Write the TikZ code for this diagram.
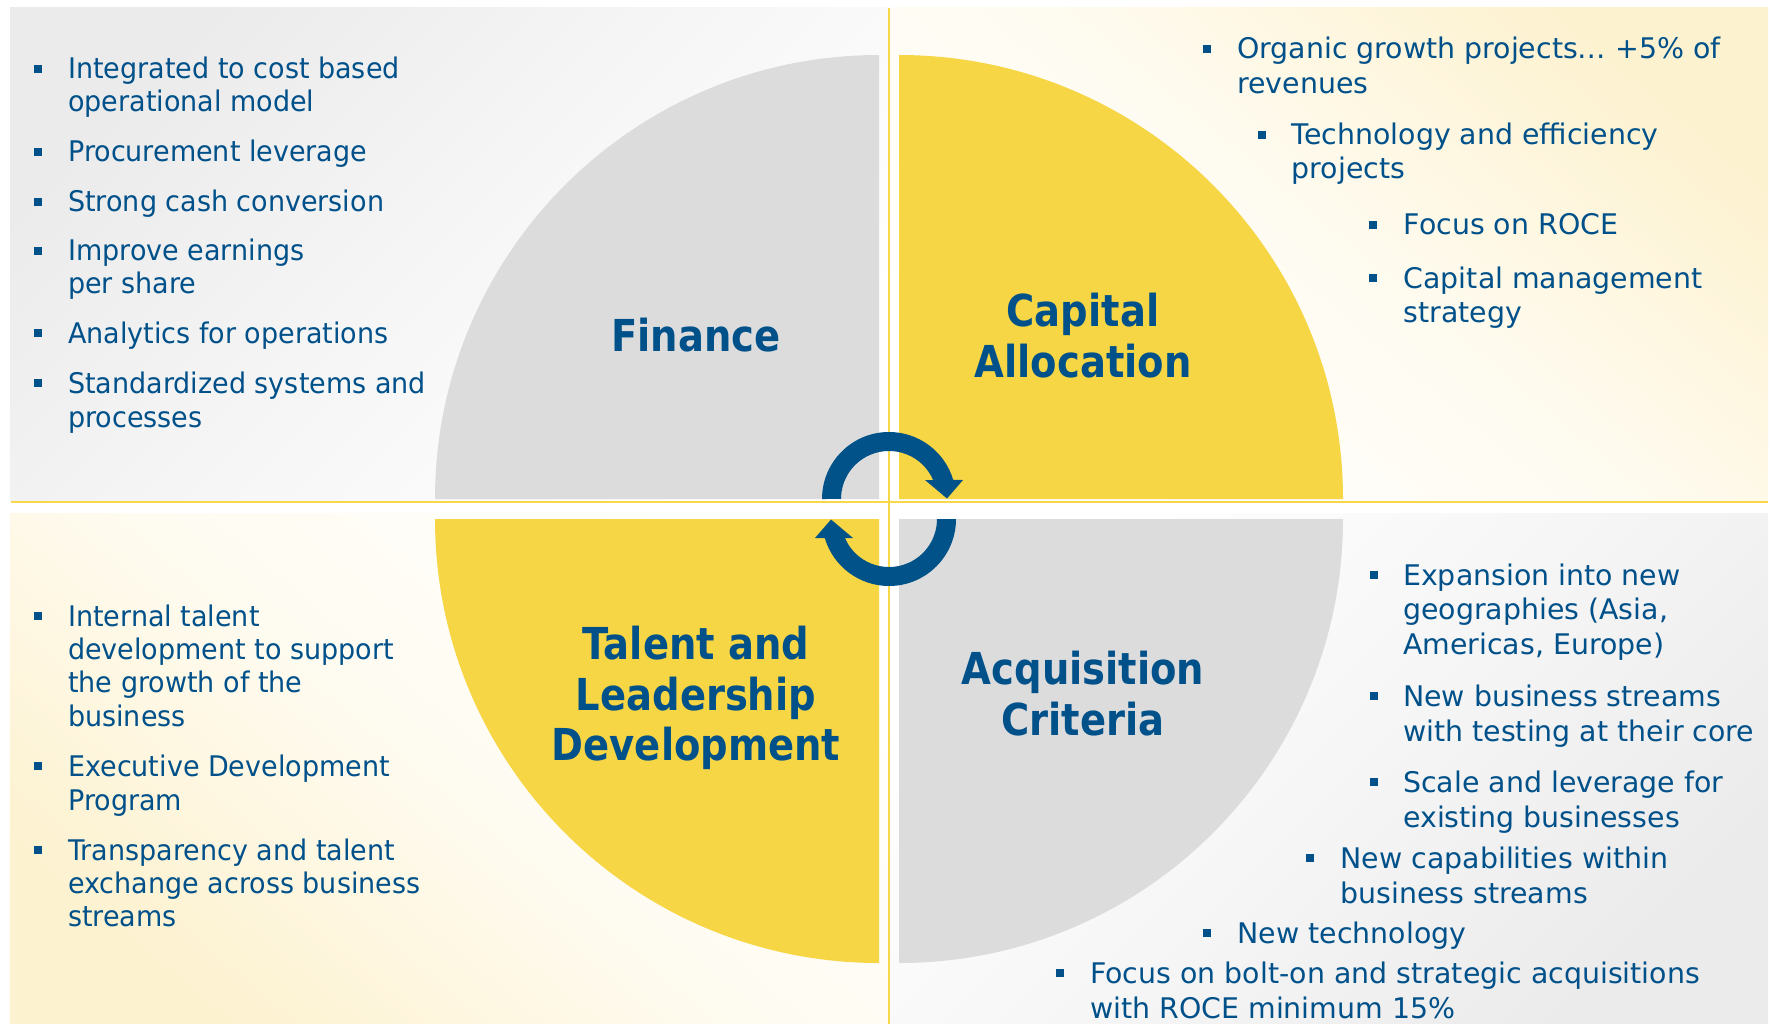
\documentclass[tikz,border=0pt]{standalone}
\usepackage{fontspec}
\setmainfont{DejaVu Sans}
\newfontfamily\bodyfontL{DejaVu Sans}[FakeStretch=0.95]
\newfontfamily\bodyfontR{DejaVu Sans}
\newfontfamily\headfont{DejaVu Sans Bold}[FakeStretch=0.875]

\definecolor{tblue}{RGB}{0,80,138}
\definecolor{arrowblue}{RGB}{0,82,136}
\definecolor{qyellow}{RGB}{246,214,68}
\definecolor{qgray}{RGB}{220,220,220}
\definecolor{lineyellow}{RGB}{248,215,72}
\definecolor{panelgray}{RGB}{235,235,235}
\definecolor{panelcream}{RGB}{253,242,208}

\tikzset{
  txtL/.style={text=tblue, inner sep=0pt, anchor=base west,
               font=\bodyfontL\fontsize{28.4}{34}\selectfont},
  txtR/.style={text=tblue, inner sep=0pt, anchor=base west,
               font=\bodyfontR\fontsize{28.4}{34}\selectfont},
  sqbullet/.style={rectangle, fill=tblue, draw=none, inner sep=0pt, minimum size=8pt},
  head/.style={text=tblue, inner sep=0pt, anchor=base,
               font=\headfont\fontsize{44}{51}\selectfont},
  divider/.style={draw=lineyellow, line width=2.6pt},
}

% bullet square placed 10pt above the baseline of the first line
\newcommand\bulletL[5]{%
  \node[sqbullet] (#1b) at (#2,#4-10) {};
  \node[txtL] (#1) at (#3,#4) {#5};}
\newcommand\bulletR[5]{%
  \node[sqbullet] (#1b) at (#2,#4-10) {};
  \node[txtR] (#1) at (#3,#4) {#5};}

\begin{document}
\begin{tikzpicture}[x=1pt,y=-1pt]
\useasboundingbox (0,0) rectangle (1771,1024);
\fill[white] (0,0) rectangle (1771,1024);

% ---- background panels ----
\shade[top color=panelgray, bottom color=white, middle color=white!55!panelgray, shading angle=45]
  (10,8) rectangle (888,501);
\shade[top color=panelcream, bottom color=white, middle color=white!70!panelcream, shading angle=-40]
  (890,8) rectangle (1768,501);
\shade[top color=white, bottom color=panelcream, middle color=white!70!panelcream, shading angle=-40]
  (10,513) rectangle (888,1024);
\shade[top color=white, bottom color=panelgray, middle color=white!55!panelgray, shading angle=45]
  (890,513) rectangle (1768,1024);

% ---- quarter discs ----
\fill[qgray]   (879,499) -- (435,499) arc[start angle=180, end angle=270, radius=444] -- cycle;
\fill[qyellow] (899,499) -- (899,55)  arc[start angle=270, end angle=360, radius=444] -- cycle;
\fill[qyellow] (879,519) -- (879,963) arc[start angle=90,  end angle=180, radius=444] -- cycle;
\fill[qgray]   (899,519) -- (1343,519) arc[start angle=0,  end angle=90,  radius=444] -- cycle;

% ---- dividing lines ----
\draw[divider] (11,502) -- (1768,502);
\draw[divider] (889,8) -- (889,1024);

% ---- cycle arrows ----
\fill[arrowblue] (822,499) arc[start angle=180, end angle=343.5, radius=67]
  -- (963,480) -- (947,498.5) -- (925,480) -- (933.1,480)
  arc[start angle=336.7, end angle=180, radius=48] -- cycle;
\fill[arrowblue] (956,519) arc[start angle=0, end angle=163.5, radius=67]
  -- (815,538) -- (831,519.5) -- (853,538) -- (844.9,538)
  arc[start angle=156.7, end angle=0, radius=48] -- cycle;

% ---- quadrant titles ----
\node[head] (fin) at (696,351) {Finance};
\node[head] (cap1) at (1083,326) {Capital};
\node[head] (cap2) at (1083,377) {Allocation};
\node[head] (tal1) at (696,659) {Talent and};
\node[head] (tal2) at (696,710) {Leadership};
\node[head] (tal3) at (696,760) {Development};
\node[head] (acq1) at (1083,684) {Acquisition};
\node[head] (acq2) at (1083,735) {Criteria};

% ---- Finance list ----
\bulletL{fa}{37.5}{68}{79}{Integrated to cost based}
\node[txtL] (fa2) at (68,112) {operational model};
\bulletL{fb}{37.5}{68}{162}{Procurement leverage}
\bulletL{fc}{37.5}{68}{212}{Strong cash conversion}
\bulletL{fd}{37.5}{68}{261}{Improve earnings}
\node[txtL] (fd2) at (68,293) {per share};
\bulletL{fe}{37.5}{68}{343}{Analytics for operations}
\bulletL{ff}{37.5}{68}{393}{Standardized systems and}
\node[txtL] (ff2) at (68,427) {processes};

% ---- Capital allocation list ----
\bulletR{ca}{1206.5}{1237}{59}{Organic growth projects… +5\% of}
\node[txtR] (ca2) at (1237,94) {revenues};
\bulletR{cb}{1261.5}{1291.5}{145}{Technology and efficiency}
\node[txtR] (cb2) at (1291.5,179) {projects};
\bulletR{cc}{1373}{1403.5}{235}{Focus on ROCE}
\bulletR{cd}{1373}{1403.5}{288}{Capital management}
\node[txtR] (cd2) at (1403.5,322) {strategy};

% ---- Talent list ----
\bulletL{ta}{37.5}{68}{626}{Internal talent}
\node[txtL] (ta2) at (68,659.5) {development to support};
\node[txtL] (ta3) at (68,692.5) {the growth of the};
\node[txtL] (ta4) at (68,726) {business};
\bulletL{tb}{37.5}{68}{776}{Executive Development}
\node[txtL] (tb2) at (68,810) {Program};
\bulletL{tc}{37.5}{68}{860}{Transparency and talent}
\node[txtL] (tc2) at (68,893) {exchange across business};
\node[txtL] (tc3) at (68,926) {streams};

% ---- Acquisition list ----
\bulletR{aa}{1373.5}{1403}{585}{Expansion into new}
\node[txtR] (aa2) at (1403,619) {geographies (Asia,};
\node[txtR] (aa3) at (1403,654) {Americas, Europe)};
\bulletR{ab}{1373.5}{1403}{706}{New business streams}
\node[txtR] (ab2) at (1403,741) {with testing at their core};
\bulletR{ac}{1373.5}{1403}{792}{Scale and leverage for}
\node[txtR] (ac2) at (1403,827) {existing businesses};
\bulletR{ad}{1310}{1340.5}{868}{New capabilities within}
\node[txtR] (ad2) at (1340.5,903) {business streams};
\bulletR{ae}{1206.5}{1237.5}{943}{New technology}
\bulletR{af}{1060}{1090}{983}{Focus on bolt-on and strategic acquisitions}
\node[txtR] (af2) at (1090,1018) {with ROCE minimum 15\%};
\end{tikzpicture}
\end{document}
